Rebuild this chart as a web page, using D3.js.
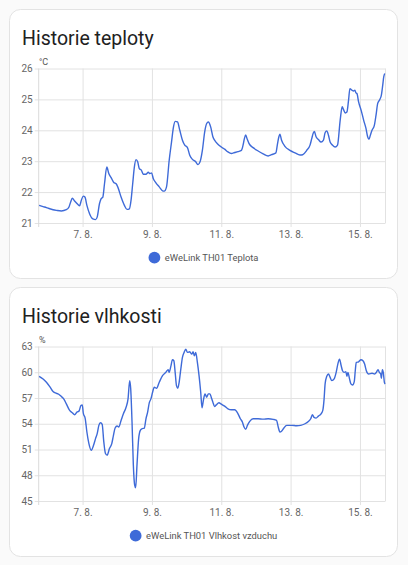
<!DOCTYPE html>
<html>
<head>
<meta charset="utf-8">
<script src="https://cdn.jsdelivr.net/npm/d3@7"></script>
<style>
  html, body { margin: 0; padding: 0; background: #fafafa; }
  svg { display: block; font-family: Roboto, "Noto Sans", sans-serif; }
</style>
</head>
<body>
<div id="chart"></div>
<script>
// day of August (decimal) + value
const tempDays = [5.746,5.861,5.957,6.053,6.148,6.244,6.388,6.531,6.608,6.656,6.703,6.770,6.866,6.914,6.962,7.019,7.067,7.124,7.201,7.297,7.373,7.421,7.488,7.536,7.584,7.632,7.699,7.756,7.823,7.900,7.967,8.014,8.110,8.206,8.282,8.349,8.397,8.445,8.493,8.541,8.589,8.636,8.694,8.751,8.828,8.895,8.943,8.990,9.038,9.115,9.211,9.306,9.354,9.421,9.498,9.565,9.622,9.670,9.737,9.804,9.880,9.947,10.024,10.091,10.167,10.263,10.330,10.388,10.455,10.522,10.579,10.627,10.694,10.758,10.807,10.903,11.000,11.097,11.193,11.290,11.386,11.483,11.580,11.628,11.667,11.705,11.744,11.802,11.918,12.063,12.208,12.353,12.449,12.575,12.623,12.662,12.691,12.739,12.836,12.981,13.126,13.271,13.348,13.464,13.560,13.609,13.657,13.686,13.734,13.802,13.879,13.947,13.995,14.043,14.092,14.140,14.208,14.285,14.353,14.430,14.488,14.527,14.575,14.623,14.671,14.710,14.768,14.816,14.855,14.884,14.913,14.961,15.039,15.106,15.174,15.222,15.261,15.300,15.348,15.415,15.464,15.512,15.570,15.618,15.657,15.686,15.715];
const tempValues = [21.57,21.53,21.50,21.46,21.43,21.41,21.39,21.43,21.52,21.68,21.80,21.71,21.60,21.56,21.73,21.87,21.84,21.57,21.30,21.13,21.11,21.19,21.63,21.79,21.84,22.27,22.81,22.60,22.47,22.31,22.27,22.17,21.84,21.57,21.44,21.46,21.73,22.27,22.81,23.05,22.98,22.76,22.71,22.58,22.58,22.64,22.60,22.62,22.44,22.30,22.17,22.04,22.03,22.17,23.03,23.62,24.11,24.29,24.27,24.00,23.68,23.52,23.44,23.19,23.06,22.98,22.89,22.98,23.35,23.95,24.22,24.27,24.11,23.79,23.68,23.55,23.46,23.39,23.30,23.25,23.28,23.31,23.35,23.52,23.73,23.85,23.73,23.57,23.44,23.33,23.24,23.17,23.21,23.27,23.57,23.79,23.87,23.68,23.48,23.35,23.27,23.20,23.21,23.35,23.52,23.73,23.92,23.96,23.79,23.70,23.62,23.68,23.92,23.98,23.84,23.62,23.52,23.46,23.52,24.33,24.76,24.67,24.56,24.59,24.97,25.35,25.30,25.27,25.30,25.21,25.19,24.92,24.63,24.33,24.06,23.79,23.71,23.84,24.00,24.16,24.49,24.87,24.99,25.14,25.46,25.73,25.84];

const humDays = [5.746,5.861,5.957,6.053,6.148,6.215,6.311,6.388,6.455,6.531,6.627,6.703,6.770,6.837,6.895,6.952,6.990,7.019,7.077,7.124,7.182,7.249,7.316,7.373,7.421,7.469,7.517,7.565,7.612,7.660,7.708,7.775,7.842,7.890,7.938,7.995,8.043,8.110,8.177,8.254,8.311,8.359,8.388,8.426,8.464,8.502,8.531,8.569,8.617,8.665,8.713,8.780,8.828,8.876,8.923,8.971,9.019,9.067,9.134,9.211,9.306,9.402,9.469,9.498,9.545,9.593,9.632,9.670,9.708,9.746,9.785,9.833,9.880,9.928,9.976,10.024,10.091,10.148,10.187,10.225,10.263,10.311,10.359,10.407,10.445,10.483,10.531,10.579,10.627,10.675,10.710,10.758,10.807,10.855,10.932,11.000,11.097,11.193,11.290,11.386,11.483,11.551,11.609,11.657,11.705,11.754,11.821,11.918,12.063,12.208,12.353,12.498,12.594,12.643,12.691,12.739,12.807,12.884,13.029,13.174,13.290,13.415,13.512,13.580,13.628,13.676,13.734,13.802,13.879,13.928,13.966,13.995,14.043,14.092,14.140,14.188,14.256,14.314,14.362,14.410,14.459,14.497,14.546,14.594,14.623,14.652,14.700,14.739,14.787,14.836,14.865,14.894,14.961,15.029,15.087,15.135,15.184,15.251,15.348,15.425,15.473,15.522,15.560,15.599,15.618,15.647,15.676,15.705,15.725];
const humValues = [59.53,59.22,58.83,58.33,57.75,57.59,57.44,57.17,56.90,56.32,55.55,55.28,55.05,55.36,55.47,56.13,56.20,55.28,54.58,53.04,51.69,50.92,51.49,52.27,52.85,53.81,54.12,53.93,51.88,50.53,50.34,51.11,51.69,52.65,53.50,53.73,53.62,54.39,55.16,55.93,56.90,59.02,58.06,54.20,49.18,46.86,46.55,49.18,52.27,53.23,53.42,53.50,54.58,55.36,56.44,56.90,57.67,58.25,58.14,58.83,59.60,59.99,60.30,59.99,60.68,61.46,61.34,59.99,58.44,58.14,58.83,60.37,61.73,62.31,62.69,62.31,62.38,62.11,62.38,61.92,62.31,61.15,59.60,57.67,55.86,56.71,57.48,57.09,57.48,57.48,57.09,56.51,56.01,56.20,56.44,56.28,56.05,55.74,55.63,55.63,55.16,54.58,54.20,53.62,53.35,53.81,54.27,54.58,54.58,54.54,54.58,54.51,54.39,53.62,53.04,53.12,53.50,53.81,53.81,53.77,53.81,54.00,54.27,54.58,55.05,54.74,54.66,54.89,55.16,55.55,56.90,58.64,59.53,59.80,59.41,59.02,59.22,59.99,60.95,61.53,60.76,60.18,59.99,60.07,59.53,59.99,59.22,58.64,58.52,58.91,60.18,61.15,61.22,61.46,61.34,60.95,60.18,59.80,59.88,59.80,59.99,60.30,59.99,59.80,59.29,60.30,59.91,58.83,58.64];

const tempTicks = [21, 22, 23, 24, 25, 26];
const humTicks = [45, 48, 51, 54, 57, 60, 63];
const domainDays = [5.734, 15.737];

const charts = [
  { title: "Historie teploty", unit: "°C", legend: "eWeLink TH01 Teplota", days: tempDays, values: tempValues, ticks: tempTicks },
  { title: "Historie vlhkosti", unit: "%", legend: "eWeLink TH01 Vlhkost vzduchu", days: humDays, values: humValues, ticks: humTicks }
];

const W = 408, H = 565;
const lineColor = "#3e6ad8";
const toDate = d => new Date(2023, 7, 1, 0, 0).getTime() + (d - 1) * 86400000;

const svg = d3.select("#chart").append("svg")
  .attr("width", W).attr("height", H);

charts.forEach((c, i) => {
  const top = 9 + i * 278;
  const g = svg.append("g").attr("transform", "translate(0," + top + ")");

  g.append("rect")
    .attr("x", 9.5).attr("y", 0.5)
    .attr("width", 388).attr("height", 269)
    .attr("rx", 11)
    .attr("fill", "#fff").attr("stroke", "#e3e3e3");

  g.append("text")
    .attr("x", 22).attr("y", 36)
    .attr("font-size", 19.5).attr("fill", "#212121")
    .text(c.title);

  const x = d3.scaleTime()
    .domain(domainDays.map(d => new Date(toDate(d))))
    .range([38.7, 385.5]);
  const y = d3.scaleLinear()
    .domain(d3.extent(c.ticks))
    .range([214, 59.5]);

  // horizontal grid
  g.append("g")
    .attr("transform", "translate(38.7,0)")
    .call(d3.axisLeft(y).tickValues(c.ticks).tickSize(-(385.5 - 38.7)).tickPadding(6).tickFormat(d3.format("d")))
    .call(a => a.select(".domain").remove())
    .call(a => a.selectAll("line").attr("stroke", "#e2e2e2").attr("x1", -4))
    .call(a => a.selectAll("text").attr("font-family", "Roboto").attr("font-size", 10).attr("fill", "#666"));

  // vertical grid
  g.append("g")
    .attr("transform", "translate(0,214)")
    .call(d3.axisBottom(x).ticks(d3.timeDay.every(2)).tickSize(-(214 - 59.5)).tickPadding(8)
      .tickFormat(d => d.getDate() + ". " + (d.getMonth() + 1) + "."))
    .call(a => a.select(".domain").remove())
    .call(a => a.selectAll("line").attr("stroke", "#e2e2e2").attr("y1", 4))
    .call(a => a.selectAll("text").attr("font-family", "Roboto").attr("font-size", 10).attr("fill", "#666"));

  // left & right border
  g.append("line").attr("x1", 38.7).attr("x2", 38.7).attr("y1", 59.5).attr("y2", 218)
    .attr("stroke", "#dadada");
  g.append("line").attr("x1", 385.5).attr("x2", 385.5).attr("y1", 59.5).attr("y2", 214)
    .attr("stroke", "#e2e2e2");

  g.append("text")
    .attr("x", 39).attr("y", 56)
    .attr("font-size", 9).attr("fill", "#555")
    .text(c.unit);

  const pts = c.days.map((d, k) => [new Date(toDate(d)), c.values[k]]);
  g.append("path")
    .datum(pts)
    .attr("fill", "none")
    .attr("stroke", lineColor)
    .attr("stroke-width", 1.4)
    .attr("stroke-linejoin", "round")
    .attr("d", d3.line().x(p => x(p[0])).y(p => y(p[1])).curve(d3.curveMonotoneX));

  // legend, centred in the card
  const lg = g.append("g");
  const lt = lg.append("text")
    .attr("x", 16.3).attr("y", 3.4)
    .attr("font-size", 9.4).attr("fill", "#555")
    .text(c.legend);
  lg.append("circle").attr("cx", 5.9).attr("cy", 0).attr("r", 5.9).attr("fill", lineColor);
  const lw = 16.3 + lt.node().getComputedTextLength();
  lg.attr("transform", "translate(" + (203.5 - lw / 2) + ",248.7)");
});
</script>
</body>
</html>
